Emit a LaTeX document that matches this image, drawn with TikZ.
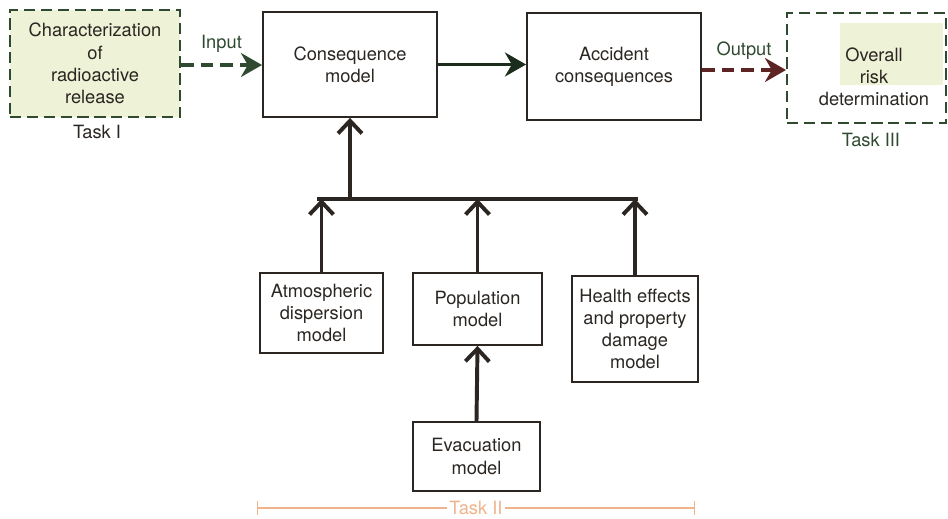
\documentclass[tikz,border=0pt]{standalone}
\usepackage{fontspec}
\setmainfont{TeX Gyre Heros}
\usetikzlibrary{arrows.meta}
\definecolor{inkgray}{HTML}{2B2622}
\definecolor{taskgreen}{HTML}{2F4A30}
\definecolor{taskfill}{HTML}{EEF2D6}
\definecolor{outred}{HTML}{5E2323}
\definecolor{tasktwo}{HTML}{F0B48C}
\newcommand{\boxfont}{\fontsize{13}{15.8}\selectfont}

\begin{document}
\begin{tikzpicture}[
  x=0.025cm, y=-0.025cm,
  box/.style={
    draw=inkgray, line width=1.3pt, align=center,
    inner sep=2pt, font=\boxfont, text=inkgray
  },
  taskbox/.style={
    box, draw=taskgreen, dash pattern=on 8pt off 4pt
  },
  tasklbl/.style={font=\boxfont},
  arr/.style={
    draw=inkgray, line width=2.8pt,
    -{Straight Barb[length=9pt, width=17pt]}
  },
  harr/.style={
    line width=2.8pt, -{Stealth[length=15pt, width=17pt]}
  }
]
  \useasboundingbox (0,0) rectangle (948,519);
  \fill[taskfill] (840,23) rectangle (943,85);

  % top row
  \node[taskbox, fill=taskfill, minimum width=4.25cm, minimum height=2.675cm]
    (rel) at (95,63.5) {Characterization\\of\\radioactive\\release};
  \node[box, minimum width=4.35cm, minimum height=2.625cm]
    (cons) at (350,64.5) {Consequence\\model};
  \node[box, minimum width=4.35cm, minimum height=2.675cm]
    (acc) at (614,66.5) {Accident\\consequences};
  \node[taskbox, minimum width=3.975cm, minimum height=2.75cm]
    (risk) at (866.5,68) {};
  \node[tasklbl, align=center, text=inkgray] (risktxt) at (874,77)
    {Overall\\risk\\determination};

  \node[tasklbl, text=inkgray] (t1) at (97,132) {Task I};
  \node[tasklbl, text=taskgreen] (t3) at (871,140) {Task III};

  % lower boxes
  \node[box, minimum width=3.075cm, minimum height=2.0cm]
    (atm) at (321.5,313) {Atmospheric\\dispersion\\model};
  \node[box, minimum width=3.225cm, minimum height=1.8cm]
    (pop) at (477.5,309) {Population\\model};
  \node[box, minimum width=3.15cm, minimum height=2.65cm]
    (hlth) at (635,329) {Health effects\\and property\\damage\\model};
  \node[box, minimum width=3.175cm, minimum height=1.725cm]
    (evac) at (476.5,456.5) {Evacuation\\model};

  % connectors
  \draw[harr, taskgreen, dash pattern=on 9pt off 5pt] (rel.east |- 0,65) -- (cons.west |- 0,65)
    node[midway, above=4pt, tasklbl, text=taskgreen] (inlbl) {Input};
  \draw[harr, taskgreen!60!black] (cons) -- (acc.west |- cons);
  \draw[harr, outred, dash pattern=on 9pt off 5pt] (acc.east |- 0,70) -- (risk.west |- 0,70)
    node[midway, above=3pt, tasklbl, text=taskgreen] (outlbl) {Output};

  \coordinate (busL) at (317,199);
  \coordinate (busR) at (638,199);
  \draw[inkgray, line width=2.8pt] (busL) -- (busR);
  \draw[arr] (cons.south |- busL) -- (cons.south);
  \foreach \m in {atm,pop,hlth} {
    \draw[arr] (\m.north) -- (\m.north |- busL);
  }
  \draw[arr] (evac.north) -- (pop.south);

  % task II span
  \coordinate (spanL) at (257,508);
  \coordinate (spanR) at (695,508);
  \draw[tasktwo, line width=0.8pt, {Bar[width=10pt]}-{Bar[width=10pt]}] (spanL) -- (spanR)
    node[midway, fill=white, inner sep=2pt, tasklbl, text=tasktwo] (t2) {Task II};
\end{tikzpicture}
\end{document}
